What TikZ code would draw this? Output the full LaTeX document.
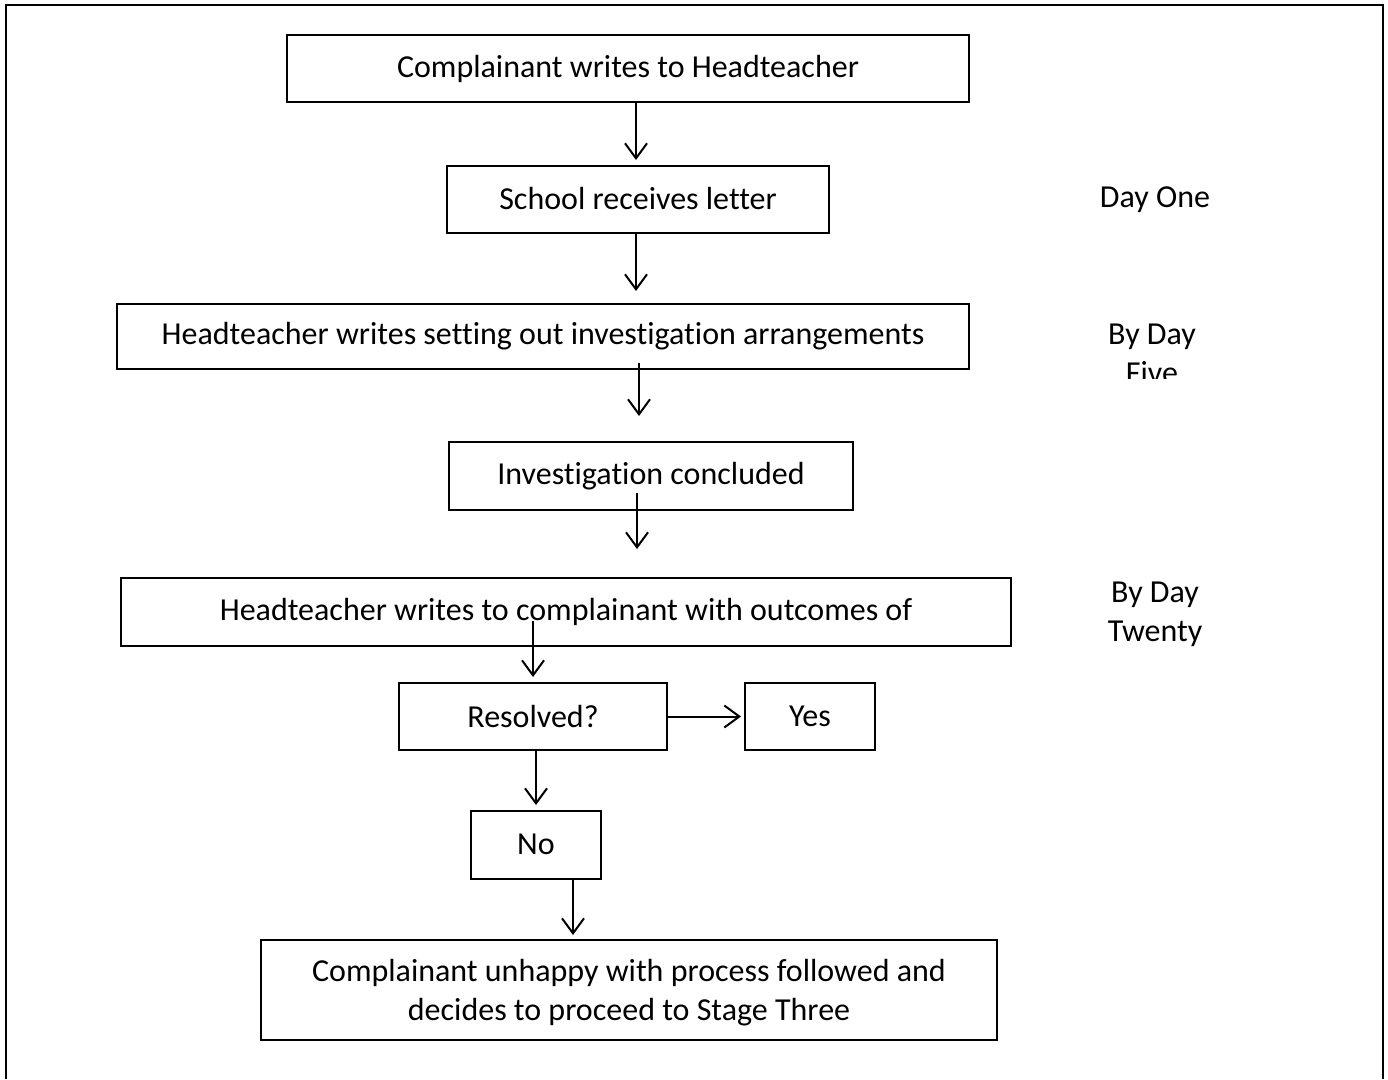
\documentclass[tikz,border=0pt]{standalone}
\usepackage{fontspec}
\setmainfont{Carlito}[Ligatures=NoCommon]
\usetikzlibrary{arrows.meta,calc}
\begin{document}
\begin{tikzpicture}[x=1pt,y=-1pt,
  box/.style={draw=black,line width=2pt,inner sep=0pt,font=\fontsize{32}{39}\selectfont},
  lbl/.style={inner sep=0pt,font=\fontsize{32}{39}\selectfont,align=center},
  arr/.style={line width=2pt,-{Straight Barb[length=15pt,width=22pt]}}]
\useasboundingbox (0,0) rectangle (1388,1079);
\draw[line width=2.5pt] (6,1079) -- (6,5) -- (1383,5) -- (1383,1079);
% boxes
\node[box,minimum width=682pt,minimum height=67pt] (b1) at (628,68.5) {\raisebox{3pt}{Complainant writes to Headteacher}};
\node[box,minimum width=382pt,minimum height=67pt] (b2) at (638,199.5) {\raisebox{3pt}{School receives letter}};
\node[box,minimum width=852pt,minimum height=65pt] (b3) at (543,336.5) {\raisebox{2pt}{Headteacher writes setting out investigation arrangements}};
\node[box,minimum width=404pt,minimum height=68pt] (b4) at (651,476) {\raisebox{2pt}{Investigation concluded}};
\node[box,minimum width=890pt,minimum height=68pt] (b5) at (566,612) {\raisebox{2pt}{Headteacher writes to complainant with outcomes of}};
\node[box,minimum width=268pt,minimum height=67pt] (res) at (533,716.5) {\raisebox{1pt}{Resolved?}};
\node[box,minimum width=130pt,minimum height=67pt] (yes) at (810,716.5) {\raisebox{1pt}{Yes}};
\node[box,minimum width=130pt,minimum height=68pt] (no) at (536,845) {\raisebox{1pt}{No}};
\node[box,minimum width=736pt,minimum height=100pt] (b6) at (629,990) {\raisebox{-3pt}[\height][\depth]{\parbox{730pt}{\centering Complainant unhappy with process followed and\\decides to proceed to Stage Three}}};
% side labels
\node[lbl] (d1) at (1155,200) {Day One};
\begin{scope}
\clip (1060,300) rectangle (1260,378);
\node[lbl] (d5) at (1152,354) {By Day\\Five};
\end{scope}
\node[lbl] (d20) at (1155,614) {By Day\\Twenty};
% connectors
\coordinate (e1) at ($(b2.north)+(-2,-6)$);
\draw[arr] ($(b1.south)+(8,0)$) -- (e1 |- 0,160);
\draw[arr] ($(b2.south)+(-2,0)$) -- ($(b2.south)+(-2,57)$);
\draw[arr] ($(b3.south)+(96,-7)$) -- ($(b4.north)+(-12,-25)$);
\draw[arr] ($(b4.south)+(-14,-18)$) -- ($(b4.south)+(-14,38)$);
\draw[arr] ($(b5.south)+(-33,-26)$) -- ($(res.north)+(0,-5)$);
\draw[arr] (res.east) -- ($(yes.west)+(-3,0)$);
\draw[arr] ($(res.south)+(3,0)$) -- ($(no.north)+(0,-5)$);
\draw[arr] ($(no.south)+(37,0)$) -- ($(b6.north)+(-56,-4)$);
\end{tikzpicture}
\end{document}
